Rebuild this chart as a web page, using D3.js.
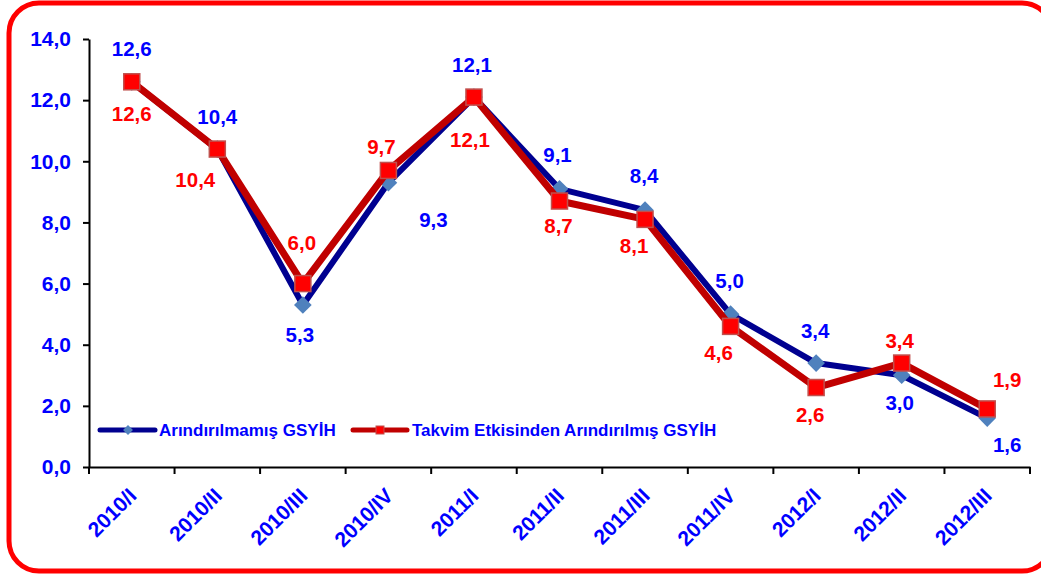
<html><head>
<script src="https://d3js.org/d3.v7.min.js"></script>
<style>
  body { margin: 0; background: #fff; }
  text { font-family: "Liberation Sans", Arial, sans-serif; font-weight: bold; }
  .axis .domain, .axis line { stroke: #000; stroke-width: 2px; }
  .axis text { fill: #0000ff; font-size: 21px; }
</style>
</head>
<body>
<svg id="chart" width="1041" height="575"></svg>
<script>

const quarters = ["2010/I", "2010/II", "2010/III", "2010/IV", "2011/I", "2011/II",
                  "2011/III", "2011/IV", "2012/I", "2012/II", "2012/III"];
const rawGdp = [12.6, 10.4, 5.3, 9.3, 12.1, 9.1, 8.4, 5.0, 3.4, 3.0, 1.6];
const calendarGdp = [12.6, 10.4, 6.0, 9.7, 12.1, 8.7, 8.1, 4.6, 2.6, 3.4, 1.9];
const yTicks = [0, 2, 4, 6, 8, 10, 12, 14];
const seriesNames = ["Arındırılmamış GSYİH", "Takvim Etkisinden Arındırılmış GSYİH"];

// label offsets (dx, dy from point) - excel placed them by hand
const rawLabelPos = [[0,-26],[0,-25],[-3,37],[45,44],[-2,-25],[-2,-27],[-1,-27],[-1,-26],[-1,-25],[-2,35],[20,34]];
const calLabelPos = [[0,39],[-22,38],[-1,-34],[-7,-16],[-4,50],[-1,32],[-11,34],[-12,34],[-6,34],[-2,-15],[20,-22]];

let svg = d3.select("#chart");

// red rounded frame (right side runs off the picture)
svg.append("rect")
  .attr("x", 9).attr("y", 3)
  .attr("width", 1043).attr("height", 568)
  .attr("rx", 30).attr("ry", 30)
  .style("fill", "none").style("stroke", "#ff0000").style("stroke-width", 5);

const plotLeft = 89, plotRight = 1030, plotTop = 39, plotBottom = 467;

let x = d3.scaleBand().domain(quarters).range([plotLeft, plotRight]).padding(0);
let y = d3.scaleLinear().domain([0, 14]).range([plotBottom, plotTop]);
const cx = d => x(d) + x.bandwidth() / 2;
const fmt = v => v.toFixed(1).replace(".", ",");

// y axis
svg.append("g")
  .attr("class", "axis")
  .attr("transform", "translate(" + plotLeft + ",0)")
  .call(d3.axisLeft(y).tickValues(yTicks).tickSize(6).tickPadding(12).tickSizeOuter(0).tickFormat(fmt));

// x axis: labels drawn separately, ticks on band edges
let xAxis = svg.append("g")
  .attr("class", "axis")
  .attr("transform", "translate(0," + plotBottom + ")")
  .call(d3.axisBottom(x).tickSize(0).tickSizeOuter(0).tickFormat(""));
xAxis.selectAll(".edge")
  .data(quarters.map(q => x(q)).concat([plotRight]))
  .enter().append("line")
  .attr("class", "edge")
  .attr("x1", d => d).attr("x2", d => d)
  .attr("y1", 0).attr("y2", 7);

svg.append("g").selectAll("text")
  .data(quarters)
  .enter().append("text")
  .attr("transform", d => "translate(" + (cx(d) + 6) + "," + (plotBottom + 30) + ") rotate(-45)")
  .attr("text-anchor", "end")
  .style("font-size", "21px")
  .style("fill", "#0000ff")
  .text(d => d);

let line = d3.line()
  .x((d, i) => cx(quarters[i]))
  .y(d => y(d));

// series 1 - navy line with blue diamonds
svg.append("path").datum(rawGdp)
  .attr("d", line)
  .style("fill", "none").style("stroke", "#000090").style("stroke-width", 6)
  .style("stroke-linejoin", "round");
svg.append("g").selectAll("rect")
  .data(rawGdp)
  .enter().append("rect")
  .attr("x", -6.25).attr("y", -6.25).attr("width", 12.5).attr("height", 12.5)
  .attr("transform", (d, i) => "translate(" + cx(quarters[i]) + "," + y(d) + ") rotate(45)")
  .style("fill", "#4f81bd");

// series 2 - dark red line with red squares
svg.append("path").datum(calendarGdp)
  .attr("d", line)
  .style("fill", "none").style("stroke", "#c00000").style("stroke-width", 7)
  .style("stroke-linejoin", "round");
svg.append("g").selectAll("rect")
  .data(calendarGdp)
  .enter().append("rect")
  .attr("x", (d, i) => cx(quarters[i]) - 8)
  .attr("y", d => y(d) - 8)
  .attr("width", 16).attr("height", 16)
  .style("fill", "#ff0000").style("stroke", "#c0504d").style("stroke-width", 1.5);

// data labels
function labels(values, pos, color) {
  svg.append("g").selectAll("text")
    .data(values)
    .enter().append("text")
    .attr("x", (d, i) => cx(quarters[i]) + pos[i][0])
    .attr("y", (d, i) => y(d) + pos[i][1])
    .attr("text-anchor", "middle")
    .style("font-size", "20.5px")
    .style("fill", color)
    .text(fmt);
}
labels(rawGdp, rawLabelPos, "#0000ff");
labels(calendarGdp, calLabelPos, "#ff0000");

// legend
let legend = svg.append("g");
legend.append("line").attr("x1", 100).attr("x2", 155).attr("y1", 430).attr("y2", 430)
  .style("stroke", "#000090").style("stroke-width", 5).style("stroke-linecap", "round");
legend.append("rect").attr("x", -3.5).attr("y", -3.5).attr("width", 7).attr("height", 7)
  .attr("transform", "translate(128,430) rotate(45)").style("fill", "#4f81bd");
legend.append("text").attr("x", 159).attr("y", 436).style("font-size", "17px")
  .style("fill", "#0000ff").text(seriesNames[0]);

legend.append("line").attr("x1", 353).attr("x2", 407).attr("y1", 430).attr("y2", 430)
  .style("stroke", "#c00000").style("stroke-width", 5).style("stroke-linecap", "round");
legend.append("rect").attr("x", 376).attr("y", 426).attr("width", 8).attr("height", 8)
  .style("fill", "#ff0000").style("stroke", "#c0504d").style("stroke-width", 1);
legend.append("text").attr("x", 412).attr("y", 436).style("font-size", "17px")
  .style("fill", "#0000ff").text(seriesNames[1]);

</script>
</body>
</html>
